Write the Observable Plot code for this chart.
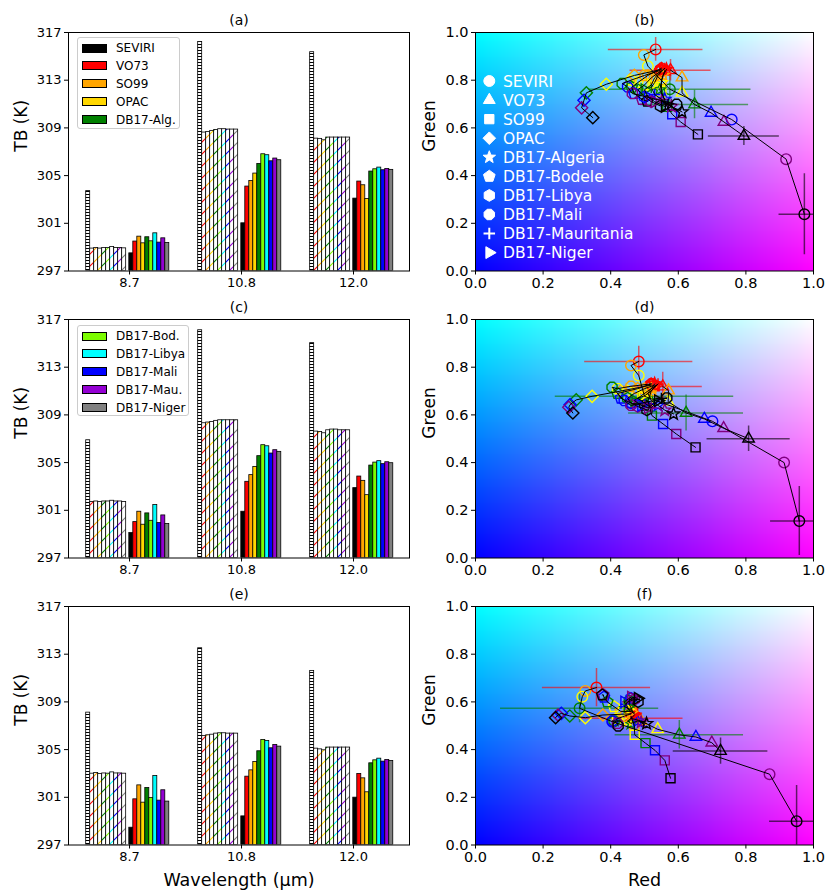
<!DOCTYPE html>
<html><head><meta charset="utf-8">
<script src="https://cdn.jsdelivr.net/npm/d3@7"></script>
<script src="https://cdn.jsdelivr.net/npm/@observablehq/plot@0.6"></script>
<style>
body{margin:0;background:#fff;font-family:"DejaVu Sans",sans-serif;}
#fig{position:relative;width:827px;height:891px;background:#fff;overflow:hidden;}
.leg{position:absolute;background:#fff;border:1px solid #cccccc;border-radius:3px;box-sizing:border-box;}
.leg .sw{position:absolute;left:4px;width:25px;height:9px;border:1px solid #000;box-sizing:border-box;}
.leg .lb{position:absolute;left:38px;font-size:12px;line-height:14px;color:#000;white-space:nowrap;}
</style></head><body>
<svg width="0" height="0" style="position:absolute"><defs id="pdefs"></defs></svg>
<div id="fig"></div>
<script>
// ---------------- data ----------------
const wavelengths = ["8.7", "10.8", "12.0"];
const barSeries = ["SEVIRI","VO73","SO99","OPAC","DB17-Alg.","DB17-Bod.","DB17-Libya","DB17-Mali","DB17-Mau.","DB17-Niger"];
const barColors = ["#000000","#ff0000","#ffa500","#ffd700","#008000","#7cfc00","#00ffff","#0000ff","#9400d3","#808080"];
const tbTicks = [297, 301, 305, 309, 313, 317];

// panel (a)
const hatchedA = [
  [303.7, 298.88, 298.93, 298.88, 298.93, 298.93, 299.02, 298.93, 298.93, 298.9],
  [316.2, 308.61, 308.66, 308.75, 308.83, 308.89, 308.89, 308.86, 308.86, 308.86],
  [315.35, 308.1, 308.08, 307.96, 308.19, 308.19, 308.19, 308.19, 308.19, 308.19]
];
const solidA = [
  [298.48, 299.47, 299.88, 299.32, 299.83, 299.49, 300.16, 299.38, 299.74, 299.35],
  [301.0, 304.08, 304.55, 305.17, 305.98, 306.79, 306.71, 306.2, 306.43, 306.29],
  [303.07, 304.5, 304.19, 303.04, 305.34, 305.53, 305.67, 305.45, 305.56, 305.48]
];
// panel (c)
const hatchedC = [
  [306.87, 301.7, 301.74, 301.7, 301.74, 301.74, 301.8, 301.74, 301.74, 301.7],
  [316.1, 308.3, 308.36, 308.41, 308.5, 308.55, 308.55, 308.55, 308.55, 308.55],
  [315.02, 307.6, 307.57, 307.46, 307.71, 307.77, 307.77, 307.71, 307.71, 307.71]
];
const solidC = [
  [299.09, 300.01, 300.88, 299.79, 300.74, 300.12, 301.44, 299.93, 300.57, 299.85],
  [300.88, 303.39, 303.95, 304.64, 305.54, 306.46, 306.37, 305.76, 306.04, 305.9],
  [302.86, 303.83, 303.47, 302.27, 304.75, 305.0, 305.12, 304.87, 305.03, 304.95]
];
// panel (e)
const hatchedE = [
  [308.1, 302.98, 303.03, 302.95, 303.0, 302.98, 303.09, 303.0, 303.0, 302.98],
  [313.5, 306.14, 306.2, 306.25, 306.34, 306.37, 306.37, 306.34, 306.34, 306.34],
  [311.6, 305.08, 305.02, 304.94, 305.17, 305.17, 305.17, 305.17, 305.17, 305.17]
];
const solidE = [
  [298.45, 300.83, 302.0, 300.55, 301.78, 300.94, 302.79, 300.72, 301.59, 300.64],
  [299.4, 302.73, 303.26, 303.96, 304.86, 305.81, 305.72, 305.11, 305.39, 305.25],
  [300.97, 302.96, 302.59, 301.42, 303.85, 304.1, 304.24, 303.99, 304.13, 304.05]
];

// scatter panels: sites (marker) x levels (colour)
const siteNames = ["SEVIRI","VO73","SO99","OPAC","DB17-Algeria","DB17-Bodele","DB17-Libya","DB17-Mali","DB17-Mauritania","DB17-Niger"];
const levelColors = ["red","orange","yellow","green","blue","purple","black"];
const rgTicks = [0, 0.2, 0.4, 0.6, 0.8, 1.0];

const redB = [
  [0.533,0.498,0.51,0.575,0.758,0.919,0.973],
  [0.577,0.611,0.611,0.648,0.697,0.735,0.794],
  [0.56,0.55,0.55,0.567,0.582,0.607,0.658],
  [0.55,0.47,0.387,0.328,0.321,0.314,0.347],
  [0.565,0.555,0.55,0.545,0.56,0.58,0.611],
  [0.55,0.51,0.48,0.462,0.47,0.493,0.508],
  [0.55,0.52,0.50,0.48,0.50,0.52,0.547],
  [0.545,0.50,0.46,0.434,0.45,0.464,0.595],
  [0.56,0.54,0.53,0.52,0.53,0.55,0.57],
  [0.555,0.53,0.52,0.50,0.51,0.53,0.56]
];
const greenB = [
  [0.929,0.906,0.859,0.762,0.635,0.469,0.238],
  [0.842,0.811,0.747,0.698,0.663,0.625,0.566],
  [0.84,0.80,0.75,0.688,0.657,0.625,0.573],
  [0.845,0.82,0.783,0.747,0.716,0.684,0.643],
  [0.845,0.82,0.79,0.76,0.72,0.69,0.667],
  [0.85,0.82,0.79,0.77,0.744,0.719,0.712],
  [0.84,0.81,0.78,0.76,0.73,0.71,0.692],
  [0.84,0.82,0.80,0.786,0.772,0.744,0.699],
  [0.85,0.82,0.79,0.77,0.74,0.72,0.70],
  [0.845,0.81,0.78,0.76,0.73,0.71,0.69]
];
const redD = [
  [0.483,0.46,0.483,0.50,0.701,0.913,0.958],
  [0.554,0.571,0.57,0.623,0.677,0.734,0.808],
  [0.53,0.52,0.51,0.522,0.555,0.594,0.651],
  [0.52,0.43,0.345,0.298,0.28,0.276,0.288],
  [0.53,0.52,0.51,0.52,0.54,0.56,0.586],
  [0.52,0.48,0.45,0.42,0.43,0.46,0.50],
  [0.53,0.50,0.47,0.45,0.46,0.48,0.507],
  [0.52,0.46,0.42,0.404,0.44,0.46,0.566],
  [0.54,0.52,0.50,0.48,0.50,0.52,0.55],
  [0.535,0.51,0.49,0.47,0.49,0.51,0.54]
];
const greenD = [
  [0.824,0.807,0.765,0.678,0.573,0.40,0.155],
  [0.719,0.702,0.655,0.608,0.583,0.544,0.50],
  [0.72,0.70,0.66,0.597,0.562,0.52,0.464],
  [0.725,0.70,0.678,0.663,0.643,0.632,0.608],
  [0.73,0.71,0.69,0.66,0.64,0.62,0.604],
  [0.73,0.71,0.70,0.69,0.67,0.65,0.64],
  [0.725,0.71,0.69,0.67,0.65,0.635,0.621],
  [0.73,0.72,0.71,0.716,0.66,0.64,0.671],
  [0.73,0.70,0.68,0.67,0.65,0.63,0.67],
  [0.725,0.70,0.68,0.66,0.64,0.63,0.66]
];
const redF = [
  [0.358,0.325,0.316,0.308,0.405,0.87,0.95],
  [0.46,0.49,0.539,0.603,0.652,0.699,0.725],
  [0.46,0.47,0.471,0.503,0.531,0.56,0.577],
  [0.46,0.377,0.325,0.279,0.254,0.244,0.237],
  [0.47,0.46,0.45,0.46,0.48,0.49,0.506],
  [0.46,0.43,0.41,0.39,0.38,0.378,0.375],
  [0.465,0.46,0.455,0.455,0.46,0.47,0.481],
  [0.46,0.44,0.42,0.41,0.405,0.42,0.422],
  [0.47,0.46,0.45,0.44,0.445,0.45,0.47],
  [0.47,0.46,0.45,0.45,0.44,0.46,0.48]
];
const greenF = [
  [0.66,0.646,0.622,0.573,0.517,0.297,0.10],
  [0.531,0.52,0.485,0.462,0.453,0.429,0.394],
  [0.54,0.50,0.462,0.427,0.397,0.355,0.28],
  [0.55,0.545,0.534,0.541,0.552,0.545,0.534],
  [0.545,0.53,0.52,0.51,0.52,0.515,0.509],
  [0.56,0.56,0.58,0.60,0.62,0.63,0.629],
  [0.56,0.575,0.59,0.605,0.615,0.61,0.601],
  [0.55,0.54,0.53,0.52,0.52,0.51,0.499],
  [0.555,0.565,0.575,0.58,0.59,0.60,0.61],
  [0.55,0.56,0.57,0.58,0.60,0.62,0.615]
];
// error bars: sites 0 (SEVIRI) and 1 (VO73), levels red, green, black
const errSites = [0, 1];
const errLevels = [0, 3, 6];
const errXB = [[0.14, 0.24, 0.075], [0.12, 0.16, 0.105]];
const errYB = [[0.05, 0.055, 0.17], [0.045, 0.06, 0.04]];
const errXD = [[0.16, 0.264, 0.085], [0.117, 0.17, 0.123]];
const errYD = [[0.064, 0.04, 0.145], [0.06, 0.075, 0.053]];
const errXF = [[0.16, 0.234, 0.08], [0.154, 0.19, 0.14]];
const errYF = [[0.08, 0.06, 0.15], [0.05, 0.06, 0.055]];

// ---------------- symbols ----------------
function poly(n, rot, scale) {
  return {draw(ctx, size) {
    const r = Math.sqrt(size / Math.PI) * scale;
    for (let k = 0; k < n; k++) {
      const a = rot + k * 2 * Math.PI / n;
      const px = r * Math.cos(a), py = r * Math.sin(a);
      if (k) ctx.lineTo(px, py); else ctx.moveTo(px, py);
    }
    ctx.closePath();
  }};
}
const symStar = {draw(ctx, size) {
  const R = Math.sqrt(size / Math.PI) * 1.2, ri = R * 0.42;
  for (let k = 0; k < 10; k++) {
    const a = -Math.PI / 2 + k * Math.PI / 5, rr = k % 2 ? ri : R;
    const px = rr * Math.cos(a), py = rr * Math.sin(a);
    if (k) ctx.lineTo(px, py); else ctx.moveTo(px, py);
  }
  ctx.closePath();
}};
const symPlus = {draw(ctx, size) {
  const r = Math.sqrt(size / Math.PI) * 1.05;
  ctx.moveTo(-r, 0); ctx.lineTo(r, 0); ctx.moveTo(0, -r); ctx.lineTo(0, r);
}};
const symDiamond = poly(4, -Math.PI / 2, 1.15);
const symPentagon = poly(5, -Math.PI / 2, 1.12);
const symHexagon = poly(6, -Math.PI / 2, 1.08);
const symOctagon = poly(8, Math.PI / 8, 1.03);
const symTriRight = poly(3, 0, 1.25);
const symTriUp = poly(3, -Math.PI / 2, 1.25);
const symSquare = poly(4, Math.PI / 4, 1.2);
const siteSymbols = [d3.symbolCircle, symTriUp, symSquare, symDiamond, symStar, symPentagon, symHexagon, symOctagon, symPlus, symTriRight];

// ---------------- hatch patterns ----------------
const defs = d3.select("#pdefs");
const pS = defs.append("pattern").attr("id", "hatch-0").attr("patternUnits", "userSpaceOnUse").attr("width", 6).attr("height", 3);
pS.append("rect").attr("width", 6).attr("height", 3).attr("fill", "white");
pS.append("rect").attr("y", 0).attr("width", 6).attr("height", 1).attr("fill", "black");
barColors.forEach((c, i) => {
  if (i === 0) return;
  const p = defs.append("pattern").attr("id", "hatch-" + i).attr("patternUnits", "userSpaceOnUse").attr("width", 12).attr("height", 12);
  p.append("rect").attr("width", 12).attr("height", 12).attr("fill", "white");
  p.append("path").attr("d", "M-1,1 L1,-1 M0,12 L12,0 M11,13 L13,11").attr("stroke", c).attr("stroke-width", 1.1);
});

// ---------------- layout ----------------
const fig = document.getElementById("fig");
function place(el, left, top) {
  el.style.position = "absolute"; el.style.left = left + "px"; el.style.top = top + "px";
  fig.appendChild(el);
}
const frameTops = [32, 318.5, 605.5];
const frameH = 238.5;
const mTop = 24;
const baseStyle = {fontFamily: "DejaVu Sans", color: "black", background: "transparent", overflow: "visible"};

function barPanel(hatched, solid, title, bottom) {
  const w = 0.0357;
  const rows = [];
  wavelengths.forEach((wl, g) => {
    barSeries.forEach((s, i) => {
      rows.push({x1: g - 0.387 + i * w, x2: g - 0.387 + (i + 1) * w, v: hatched[g][i], f: "url(#hatch-" + i + ")"});
      rows.push({x1: g - 0.002 + i * w, x2: g - 0.002 + (i + 1) * w, v: solid[g][i], f: barColors[i]});
    });
  });
  const mb = bottom ? 46 : 30;
  return Plot.plot({
    width: 420, height: mTop + frameH + mb,
    marginLeft: 68, marginRight: 11, marginTop: mTop, marginBottom: mb,
    x: {domain: [-0.545, 2.5], axis: null},
    y: {domain: [297, 317], axis: null},
    color: {type: "identity"},
    style: {...baseStyle, fontSize: "13px"},
    marks: [
      Plot.rect(rows, {x1: "x1", x2: "x2", y1: () => 297, y2: "v", fill: "f", stroke: "black", strokeWidth: 0.8, clip: true}),
      Plot.frame({stroke: "black", strokeWidth: 1}),
      Plot.axisX({ticks: [0, 1, 2], tickFormat: i => wavelengths[i], tickSize: 4, tickPadding: 3, fontSize: 13, label: null}),
      Plot.axisY({ticks: tbTicks, tickFormat: d => String(d), tickSize: 4, tickPadding: 3, fontSize: 13, label: null}),
      Plot.text([title], {frameAnchor: "top", lineAnchor: "middle", dy: -12, fontSize: 14}),
      Plot.text(["TB (K)"], {frameAnchor: "left", lineAnchor: "middle", rotate: -90, dx: -47, fontSize: 17}),
      bottom ? Plot.text(["Wavelength (μm)"], {frameAnchor: "bottom", lineAnchor: "middle", dy: 35, fontSize: 17.5}) : null
    ]
  });
}

function scatterPanel(xs, ys, ex, ey, title, bottom) {
  const pts = [];
  xs.forEach((row, s) => row.forEach((x, l) => pts.push({s, l, x, y: ys[s][l], c: levelColors[l]})));
  const err = [];
  errSites.forEach((s, k) => errLevels.forEach((l, j) => err.push({x: xs[s][l], y: ys[s][l], xe: ex[k][j], ye: ey[k][j], c: levelColors[l]})));
  const mb = bottom ? 46 : 30;
  return Plot.plot({
    width: 417, height: mTop + frameH + mb,
    marginLeft: 65, marginRight: 14, marginTop: mTop, marginBottom: mb,
    x: {domain: [0, 1], axis: null},
    y: {domain: [0, 1], axis: null},
    color: {type: "identity"},
    style: {...baseStyle, fontSize: "14.5px"},
    marks: [
      Plot.raster({x1: 0, x2: 1, y1: 0, y2: 1, width: 120, height: 120,
        fill: (x, y) => `rgb(${Math.round(x * 255)},${Math.round(y * 255)},255)`}),
      Plot.ruleY(err, {y: "y", x1: d => d.x - d.xe, x2: d => d.x + d.xe, stroke: "c", strokeOpacity: 0.6, strokeWidth: 1.5, clip: true}),
      Plot.ruleX(err, {x: "x", y1: d => d.y - d.ye, y2: d => d.y + d.ye, stroke: "c", strokeOpacity: 0.6, strokeWidth: 1.5, clip: true}),
      ...siteNames.map((n, s) => Plot.dot(pts.filter(p => p.s === s), {x: "x", y: "y", stroke: "c", fill: "none", symbol: siteSymbols[s], r: 5.3, strokeWidth: 1.4})),
      Plot.line(pts, {x: "x", y: "y", z: "s", stroke: "black", strokeWidth: 1}),
      Plot.frame({stroke: "black", strokeWidth: 1}),
      Plot.axisX({ticks: rgTicks, tickFormat: d3.format(".1f"), tickSize: 4, tickPadding: 3, fontSize: 14.5, label: null}),
      Plot.axisY({ticks: rgTicks, tickFormat: d3.format(".1f"), tickSize: 4, tickPadding: 3, fontSize: 14.5, label: null}),
      Plot.text([title], {frameAnchor: "top", lineAnchor: "middle", dy: -12, fontSize: 14}),
      Plot.text(["Green"], {frameAnchor: "left", lineAnchor: "middle", rotate: -90, dx: -46, fontSize: 17}),
      bottom ? Plot.text(["Red"], {frameAnchor: "bottom", lineAnchor: "middle", dy: 35, fontSize: 17.5}) : null
    ]
  });
}

place(barPanel(hatchedA, solidA, "(a)", false), 0, frameTops[0] - mTop);
place(barPanel(hatchedC, solidC, "(c)", false), 0, frameTops[1] - mTop);
place(barPanel(hatchedE, solidE, "(e)", true), 0, frameTops[2] - mTop);
place(scatterPanel(redB, greenB, errXB, errYB, "(b)", false), 410, frameTops[0] - mTop);
place(scatterPanel(redD, greenD, errXD, errYD, "(d)", false), 410, frameTops[1] - mTop);
place(scatterPanel(redF, greenF, errXF, errYF, "(f)", true), 410, frameTops[2] - mTop);

// ---------------- bar legends ----------------
function barLegend(left, top, width, height, idx) {
  const box = document.createElement("div");
  box.className = "leg";
  box.style.left = left + "px"; box.style.top = top + "px";
  box.style.width = width + "px"; box.style.height = height + "px";
  idx.forEach((i, k) => {
    const cy = 10 + k * 17.9;
    const sw = document.createElement("div");
    sw.className = "sw"; sw.style.top = (cy - 4.5) + "px"; sw.style.background = barColors[i];
    const lb = document.createElement("div");
    lb.className = "lb"; lb.style.top = (cy - 7) + "px"; lb.textContent = barSeries[i];
    box.appendChild(sw); box.appendChild(lb);
  });
  fig.appendChild(box);
}
barLegend(77, 37, 103, 92, [0, 1, 2, 3, 4]);
barLegend(77, 325, 112, 91, [5, 6, 7, 8, 9]);

// ---------------- scatter legend (b) ----------------
const lg = d3.create("svg").attr("width", 220).attr("height", 210)
  .style("position", "absolute").style("left", "470px").style("top", "60px").style("overflow", "visible");
siteNames.forEach((n, s) => {
  const cy = 21 + s * 19.07;
  const isPlus = s === 8;
  lg.append("path").attr("d", d3.symbol(siteSymbols[s], Math.PI * 30)())
    .attr("transform", `translate(19.3,${cy})`)
    .attr("fill", isPlus ? "none" : "white").attr("stroke", "white").attr("stroke-width", isPlus ? 2 : 1);
  lg.append("text").attr("x", 33).attr("y", cy).attr("dy", "0.36em")
    .attr("fill", "white").attr("font-size", 15.5).attr("font-family", "DejaVu Sans").text(n);
});
fig.appendChild(lg.node());
</script>
</body></html>
